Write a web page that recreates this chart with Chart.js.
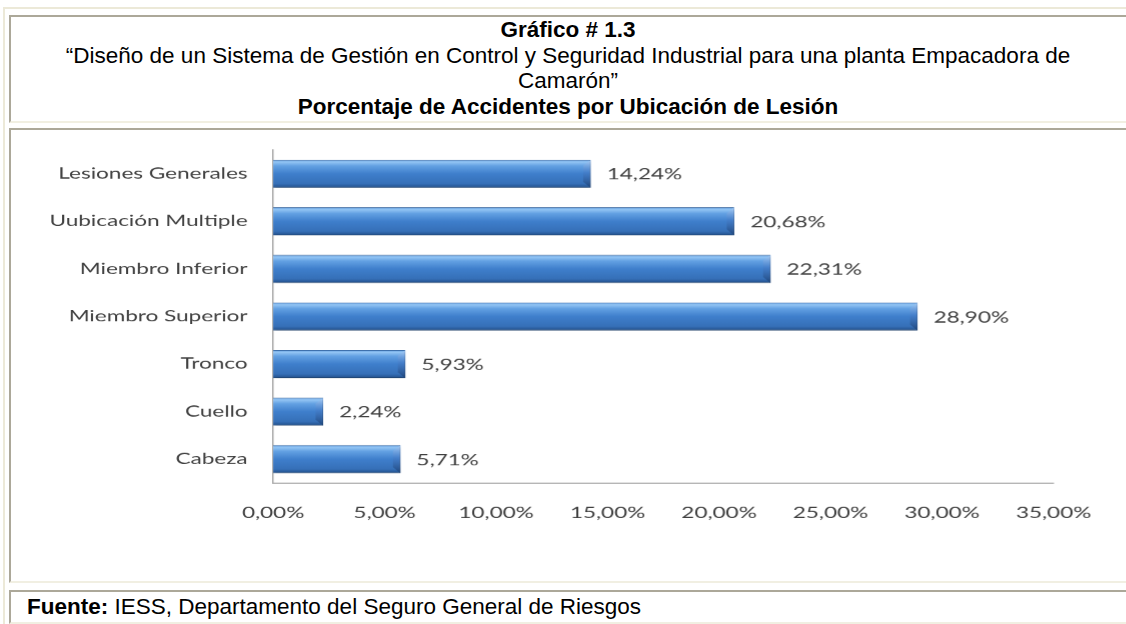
<!DOCTYPE html>
<html lang="es">
<head>
<meta charset="utf-8">
<title>Gráfico # 1.3</title>
<script src="https://cdn.jsdelivr.net/npm/chart.js@4.4.1/dist/chart.umd.min.js"></script>
<style>
  html, body { margin: 0; padding: 0; background: #fff; width: 1126px; height: 624px; overflow: hidden; }
  .frame { position: absolute; left: 3px; top: 7px; width: 1200px; height: 700px;
           border-top: 2px solid #ece9d8; border-left: 2px solid #ece9d8; }
  .cell { position: absolute; box-sizing: border-box; background: #fff;
          border-top: 2px solid #aca899; border-left: 2px solid #aca899;
          border-bottom: 2px solid #f1efe2; border-right: 2px solid #f1efe2; }
  #head { left: 9px; top: 15px; width: 1131px; height: 108px; padding-right: 13px; text-align: center;
          font-family: "Liberation Sans", Arial, sans-serif; font-size: 22.5px; line-height: 25.7px; color: #000; }
  #head b { font-weight: bold; }
  #plot { left: 9px; top: 128px; width: 1131px; height: 455px; }
  #foot { left: 9px; top: 590px; width: 1131px; height: 34px; padding: 2px 0 0 16px;
          font-family: "Liberation Sans", Arial, sans-serif; font-size: 22.5px; line-height: 26px; color: #000; }
  #wrap { position: absolute; left: 11px; top: 130px; width: 742.67px; height: 450px;
          transform: scaleX(1.5); transform-origin: 0 0; }
</style>
</head>
<body>
<div class="frame"></div>
<div class="cell" id="head">
  <b>Gráfico # 1.3</b><br>
  “Diseño de un Sistema de Gestión en Control y Seguridad Industrial para una planta Empacadora de<br>
  Camarón”<br>
  <b>Porcentaje de Accidentes por Ubicación de Lesión</b>
</div>
<div class="cell" id="plot"></div>
<div class="cell" id="foot"><b>Fuente:</b> IESS, Departamento del Seguro General de Riesgos</div>
<div id="wrap"><canvas id="myChart"></canvas></div>

<script>
'use strict';

const categories = ['Lesiones Generales', 'Uubicación Multiple', 'Miembro Inferior', 'Miembro Superior', 'Tronco', 'Cuello', 'Cabeza'];
const percentages = [14.24, 20.68, 22.31, 28.90, 5.93, 2.24, 5.71];
const xTicks = [0, 5, 10, 15, 20, 25, 30, 35];

const LABEL_FONT = { family: 'Lato, "Open Sans", sans-serif', size: 15 };
const TEXT_COLOR = '#404040';

// * Spanish style number: 14,24%
const pct = (v) => v.toFixed(2).replace('.', ',') + '%';

// * Vertical bevel gradient for each bar, built from the bar's own pixel position.
function barFill(context) {
  const chart = context.chart;
  const yScale = chart.scales.y;
  if (!yScale || !chart.chartArea) return '#3f7ecb';
  const band = yScale.getPixelForValue(1) - yScale.getPixelForValue(0);
  const half = (band * 0.59) / 2;
  const cy = yScale.getPixelForValue(context.dataIndex);
  const g = chart.ctx.createLinearGradient(0, cy - half, 0, cy + half);
  g.addColorStop(0, '#5f99dc');
  g.addColorStop(0.08, '#93c5f4');
  g.addColorStop(0.22, '#63a1e3');
  g.addColorStop(0.5, '#3f7fcc');
  g.addColorStop(0.85, '#3670b8');
  g.addColorStop(1, '#214e88');
  return g;
}

const barShadow = {
  id: 'barShadow',
  beforeDatasetDraw(chart) {
    const ctx = chart.ctx;
    ctx.save();
    ctx.shadowColor = 'rgba(0, 0, 0, 0.32)';
    ctx.shadowBlur = 4;
    ctx.shadowOffsetX = 1;
    ctx.shadowOffsetY = 3;
  },
  afterDatasetDraw(chart) {
    chart.ctx.restore();
  },
};

// * Right end bevel and value labels, placed from each bar element.
const barDecor = {
  id: 'barDecor',
  afterDatasetsDraw(chart) {
    const ctx = chart.ctx;
    const bars = chart.getDatasetMeta(0).data;
    ctx.save();
    bars.forEach((bar) => {
      const top = bar.y - bar.height / 2;
      const bottom = bar.y + bar.height / 2;
      const dx = Math.min(5, (bar.x - bar.base) / 2);
      const dy = 6;
      const g = ctx.createLinearGradient(0, top, 0, bottom);
      g.addColorStop(0, 'rgba(170, 205, 245, 0.85)');
      g.addColorStop(0.45, 'rgba(70, 125, 200, 0.6)');
      g.addColorStop(1, 'rgba(25, 60, 110, 0.75)');
      ctx.fillStyle = g;
      ctx.beginPath();
      ctx.moveTo(bar.x, top);
      ctx.lineTo(bar.x, bottom);
      ctx.lineTo(bar.x - dx, bottom - dy);
      ctx.lineTo(bar.x - dx, top + dy);
      ctx.closePath();
      ctx.fill();
    });
    ctx.font = `${LABEL_FONT.size}px ${LABEL_FONT.family}`;
    ctx.fillStyle = TEXT_COLOR;
    ctx.textAlign = 'left';
    ctx.textBaseline = 'middle';
    bars.forEach((bar, i) => {
      ctx.fillText(pct(percentages[i]), bar.x + 10.7, bar.y + 1);
    });
    ctx.restore();
  },
};

const chart = new Chart(document.getElementById('myChart'), {
  type: 'bar',
  data: {
    labels: categories,
    datasets: [{
      data: percentages,
      backgroundColor: barFill,
      borderColor: '#2d5f9c',
      borderWidth: 0.7,
      borderSkipped: 'start',
      barPercentage: 0.59,
      categoryPercentage: 1,
    }],
  },
  options: {
    indexAxis: 'y',
    responsive: true,
    maintainAspectRatio: false,
    animation: false,
    devicePixelRatio: 1.5,
    layout: { padding: { top: 20, right: 48, bottom: 0, left: 0 } },
    plugins: {
      legend: { display: false },
      tooltip: { enabled: false },
    },
    scales: {
      x: {
        min: 0,
        max: 35,
        afterBuildTicks: (scale) => { scale.ticks = xTicks.map((v) => ({ value: v })); },
        afterFit: (scale) => { scale.height = 97; scale.paddingLeft = 0; scale.paddingRight = 0; },
        grid: { display: false, drawTicks: false },
        border: { display: true, color: '#8a8a8a', width: 1 },
        ticks: {
          padding: 21,
          color: TEXT_COLOR,
          font: LABEL_FONT,
          maxRotation: 0,
          autoSkip: false,
          callback: (v) => pct(v),
        },
      },
      y: {
        afterFit: (scale) => { scale.width = 174.7; scale.paddingTop = 0; scale.paddingBottom = 0; },
        grid: { display: false, drawTicks: false },
        border: { display: true, color: '#a8a8a8', width: 1 },
        ticks: { padding: 17, color: TEXT_COLOR, font: LABEL_FONT },
      },
    },
  },
  plugins: [barShadow, barDecor],
});
</script>
</body>
</html>
